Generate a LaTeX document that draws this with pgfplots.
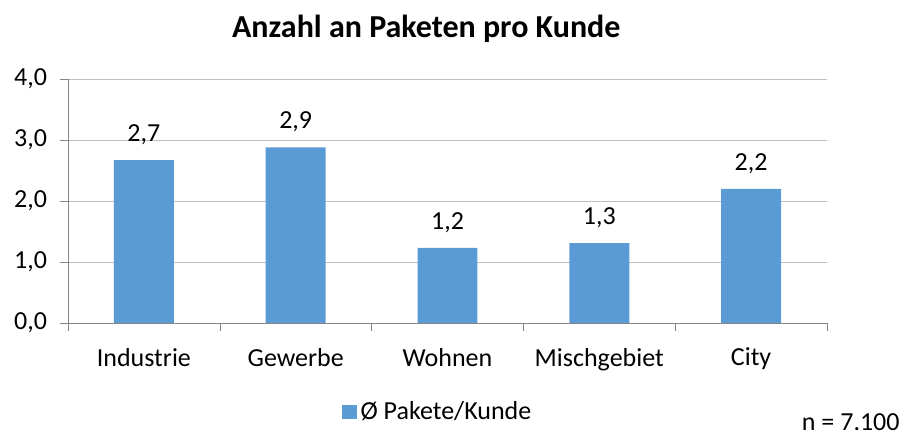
\documentclass[border=0pt]{standalone}
\usepackage{fontspec}
\setmainfont{Carlito}
\usepackage{pgfplots}
\pgfplotsset{compat=1.18}
\definecolor{barblue}{HTML}{5B9BD5}
\definecolor{axisgray}{HTML}{868686}
\definecolor{gridgray}{HTML}{BFBFBF}
\begin{document}
\begin{tikzpicture}
\useasboundingbox (-34pt,-57.5pt) rectangle (418.5pt,161.5pt);
\begin{axis}[at={(0,0)},anchor=south west,scale only axis,
 width=379.5pt,height=122pt,
 xmin=-0.5,xmax=4.5,ymin=0,ymax=4,enlargelimits=false,
 ybar,bar width=0.395,
 axis lines*=left,axis line style={axisgray,-},
 xtick={0,1,2,3,4},
 xticklabels={Industrie,Gewerbe,Wohnen,Mischgebiet,City},
 major x tick style={draw=none},
 minor xtick={-0.5,0.5,1.5,2.5,3.5,4.5},
 minor tick length=4pt,
 minor x tick style={axisgray},
 ytick={0,1,2,3,4},
 major tick length=4pt,
 tick align=outside,
 y tick style={axisgray},
 ymajorgrids,grid style={gridgray,thin},
 yticklabel style={/pgf/number format/use comma,/pgf/number format/fixed,
   /pgf/number format/fixed zerofill,/pgf/number format/precision=1,xshift=-3pt},
 /pgf/number format/assume math mode=true,
 tick label style={font=\fontsize{13}{15}\selectfont,text=black},
 xticklabel style={yshift=-5pt},
 nodes near coords,
 nodes near coords style={font=\fontsize{13}{15}\selectfont,anchor=south,yshift=4pt,
   /pgf/number format/use comma,/pgf/number format/fixed,
   /pgf/number format/fixed zerofill,/pgf/number format/precision=1},
 title={\fontsize{16}{19}\selectfont\bfseries Anzahl an Paketen pro Kunde},
 title style={at={(0.472,1)},yshift=8.5pt},
 legend style={at={(0.488,-0.365)},anchor=center,draw=none,fill=none,
   font=\fontsize{13}{15}\selectfont},
 legend image code/.code={\fill[barblue] (0pt,-3.7pt) rectangle (7.5pt,3.7pt);},
]
\addplot[draw=none,fill=barblue] coordinates {(0,2.67) (1,2.88) (2,1.23) (3,1.31) (4,2.2)};
\addlegendentry{Ø Pakete/Kunde}
\end{axis}
\node[anchor=base east,font=\fontsize{13}{15}\selectfont,inner sep=0pt] at (416pt,-54pt) {n = 7.100};
\end{tikzpicture}
\end{document}
